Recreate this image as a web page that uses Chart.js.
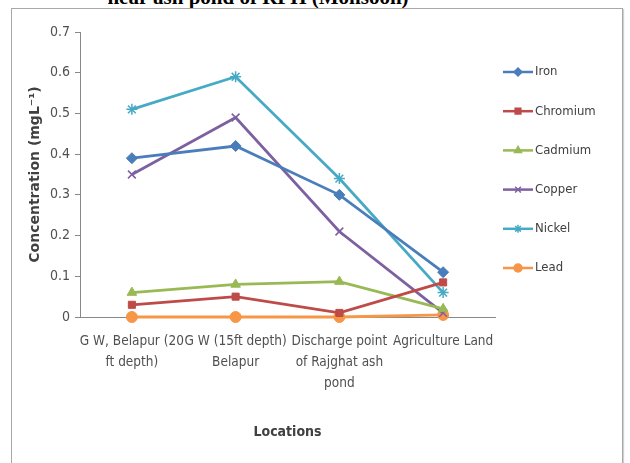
<!DOCTYPE html>
<html>
<head>
<meta charset="utf-8">
<script src="https://cdn.jsdelivr.net/npm/chart.js@4/dist/chart.umd.min.js"></script>
<style>
  html, body { margin: 0; padding: 0; background: #fff; }
  #wrap { position: relative; width: 630px; height: 463px; overflow: hidden; }
  #title {
    position: absolute; left: -57px; top: -15px; width: 630px; text-align: center;
    font: bold 21px 'Liberation Serif', 'DejaVu Serif', serif; color: #000; line-height: 24px;
  }
  #frame {
    position: absolute; left: 11px; top: 8px; width: 610px; height: 470px;
    border: 1px solid #a8a8a8; box-shadow: 1px 1px 1px #d0d0d0;
  }
  canvas { position: absolute; left: 0; top: 0; }
</style>
</head>
<body>
<div id="wrap">
  <div id="title">near ash pond of RPH (Monsoon)</div>
  <div id="frame"></div>
  <canvas id="chart" width="630" height="463"></canvas>
</div>
<script>
(() => {
    const locations = [
        ['G W, Belapur (20', 'ft depth)'],
        ['G W (15ft depth)', 'Belapur'],
        ['Discharge point', 'of Rajghat ash', 'pond'],
        ['Agriculture Land']
    ];
    const iron = [0.39, 0.42, 0.30, 0.11];
    const chromium = [0.03, 0.05, 0.01, 0.085];
    const cadmium = [0.06, 0.08, 0.087, 0.02];
    const copper = [0.35, 0.49, 0.21, 0.01];
    const nickel = [0.51, 0.59, 0.34, 0.06];
    const lead = [0, 0, 0, 0.005];
    const yTicks = [0, 0.1, 0.2, 0.3, 0.4, 0.5, 0.6, 0.7];

    const family = "'DejaVu Sans', sans-serif";
    // chart.js checks font.style, but weight goes straight into the font string,
    // so the stretch keyword rides along there
    const cond = 'condensed';

    // name, data, colour, marker
    const series = [
        ['Iron', iron, '#4a7ebb', 'rectRot'],
        ['Chromium', chromium, '#be4b48', 'rect'],
        ['Cadmium', cadmium, '#98b954', 'triangle'],
        ['Copper', copper, '#7d60a0', 'crossRot'],
        ['Nickel', nickel, '#46aac5', 'star'],
        ['Lead', lead, '#f79646', 'circle']
    ];

    const datasets = series.map(([label, data, color, marker]) => ({
        label,
        data,
        borderColor: color,
        backgroundColor: color,
        borderWidth: 2.8,
        pointStyle: marker,
        pointRadius: marker === 'rect' ? 5 : 5.5,
        pointBorderWidth: ['crossRot', 'star'].includes(marker) ? 1.5 : 1,
        tension: 0,
        clip: false
    }));

    // legend drawn to the right of the plot, Excel style
    const sideLegend = {
        id: 'sideLegend',
        afterDraw(chart) {
            const ctx = chart.ctx;
            const x0 = 503, x1 = 533, top = 72, step = 39.2;
            ctx.save();
            chart.data.datasets.forEach((ds, i) => {
                const y = top + i * step;
                ctx.strokeStyle = ds.borderColor;
                ctx.fillStyle = ds.borderColor;
                ctx.lineWidth = 2.5;
                ctx.beginPath();
                ctx.moveTo(x0, y);
                ctx.lineTo(x1, y);
                ctx.stroke();
                ctx.lineWidth = 1.5;
                Chart.helpers.drawPoint(ctx, {
                    pointStyle: ds.pointStyle,
                    radius: 4,
                    borderWidth: 1.5
                }, (x0 + x1) / 2, y);
                ctx.fillStyle = '#404040';
                ctx.font = cond + ' 13px ' + family;
                ctx.textBaseline = 'middle';
                ctx.fillText(ds.label, x1 + 2, y);
            });
            ctx.restore();
        }
    };

    new Chart(document.getElementById('chart'), {
        type: 'line',
        data: { labels: locations, datasets },
        options: {
            responsive: false,
            animation: false,
            layout: { padding: { left: 27, right: 135, top: 32, bottom: 0 } },
            plugins: { legend: { display: false }, tooltip: { enabled: false } },
            scales: {
                x: {
                    offset: true,
                    grid: { display: false, drawTicks: false },
                    border: { color: '#888', width: 1 },
                    ticks: {
                        color: '#505050',
                        font: { family, size: 13.5, weight: cond, lineHeight: 1.55 },
                        padding: 14,
                        maxRotation: 0,
                        autoSkip: false
                    },
                    title: {
                        display: true,
                        text: 'Locations',
                        color: '#404040',
                        font: { family, size: 14, weight: 'bold ' + cond },
                        padding: { top: 0, bottom: 22 }
                    },
                    afterFit: (scale) => { scale.height = 146; }
                },
                y: {
                    min: 0,
                    max: 0.7,
                    afterBuildTicks: (scale) => { scale.ticks = yTicks.map(v => ({ value: v })); },
                    grid: { display: true, drawOnChartArea: false, drawTicks: true, tickLength: 5, color: '#888' },
                    border: { color: '#888', width: 1 },
                    ticks: {
                        color: '#505050',
                        font: { family, size: 14, weight: cond },
                        padding: 5,
                        callback: (v) => String(Math.round(v * 10) / 10)
                    },
                    title: {
                        display: true,
                        text: 'Concentration (mgL\u207B\u00B9)',
                        color: '#404040',
                        font: { family, size: 14, weight: 'bold' },
                        padding: { top: 0, bottom: 0 }
                    },
                    afterFit: (scale) => { scale.width = 53; }
                }
            }
        },
        plugins: [sideLegend]
    });
})();
</script>
</body>
</html>
